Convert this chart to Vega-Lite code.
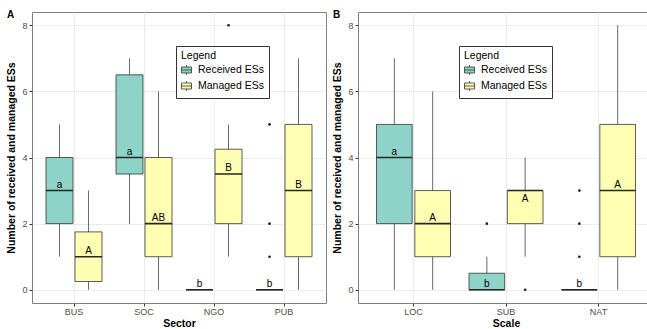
{
  "$schema": "https://vega.github.io/schema/vega-lite/v6.json",
  "background": "white",
  "padding": {"left": 6, "top": 9, "right": 0, "bottom": 0},
  "spacing": 5,
  "config": {
    "font": "Liberation Sans",
    "view": {"stroke": "#7f7f7f", "strokeWidth": 1},
    "axis": {
      "domain": false,
      "tickColor": "#333333",
      "tickSize": 3,
      "labelPadding": 2,
      "labelFontSize": 9,
      "labelColor": "#4D4D4D",
      "titleFontSize": 10.5,
      "titleFontWeight": "bold",
      "titleColor": "#000000"
    }
  },
  "datasets": {
    "boxA": [
      {"cat": "BUS", "series": "Received ESs", "low": 1, "q1": 2, "med": 3, "q3": 4, "high": 5, "letter": "a", "ly": 3.18},
      {"cat": "BUS", "series": "Managed ESs", "low": 0, "q1": 0.25, "med": 1, "q3": 1.75, "high": 3, "letter": "A", "ly": 1.17},
      {"cat": "SOC", "series": "Received ESs", "low": 2, "q1": 3.5, "med": 4, "q3": 6.5, "high": 7, "letter": "a", "ly": 4.16},
      {"cat": "SOC", "series": "Managed ESs", "low": 0, "q1": 1, "med": 2, "q3": 4, "high": 6, "letter": "AB", "ly": 2.18},
      {"cat": "NGO", "series": "Received ESs", "low": 0, "q1": 0, "med": 0, "q3": 0, "high": 0, "letter": "b", "ly": 0.16},
      {"cat": "NGO", "series": "Managed ESs", "low": 1, "q1": 2, "med": 3.5, "q3": 4.25, "high": 5, "letter": "B", "ly": 3.69},
      {"cat": "PUB", "series": "Received ESs", "low": 0, "q1": 0, "med": 0, "q3": 0, "high": 0, "letter": "b", "ly": 0.16},
      {"cat": "PUB", "series": "Managed ESs", "low": 0, "q1": 1, "med": 3, "q3": 5, "high": 7, "letter": "B", "ly": 3.18}
    ],
    "ptsA": [
      {"cat": "NGO", "series": "Managed ESs", "value": 8},
      {"cat": "PUB", "series": "Received ESs", "value": 1},
      {"cat": "PUB", "series": "Received ESs", "value": 2},
      {"cat": "PUB", "series": "Received ESs", "value": 5}
    ],
    "boxB": [
      {"cat": "LOC", "series": "Received ESs", "low": 0, "q1": 2, "med": 4, "q3": 5, "high": 7, "letter": "a", "ly": 4.16},
      {"cat": "LOC", "series": "Managed ESs", "low": 0, "q1": 1, "med": 2, "q3": 3, "high": 6, "letter": "A", "ly": 2.18},
      {"cat": "SUB", "series": "Received ESs", "low": 0, "q1": 0, "med": 0, "q3": 0.5, "high": 1, "letter": "b", "ly": 0.16},
      {"cat": "SUB", "series": "Managed ESs", "low": 1, "q1": 2, "med": 3, "q3": 3, "high": 4, "letter": "A", "ly": 2.76},
      {"cat": "NAT", "series": "Received ESs", "low": 0, "q1": 0, "med": 0, "q3": 0, "high": 0, "letter": "b", "ly": 0.16},
      {"cat": "NAT", "series": "Managed ESs", "low": 0, "q1": 1, "med": 3, "q3": 5, "high": 8, "letter": "A", "ly": 3.18}
    ],
    "ptsB": [
      {"cat": "SUB", "series": "Received ESs", "value": 2},
      {"cat": "SUB", "series": "Managed ESs", "value": 0},
      {"cat": "NAT", "series": "Received ESs", "value": 1},
      {"cat": "NAT", "series": "Received ESs", "value": 2},
      {"cat": "NAT", "series": "Received ESs", "value": 3}
    ]
  },
  "resolve": {
    "scale": {"x": "independent", "xOffset": "independent", "y": "independent", "fill": "independent"},
    "legend": {"fill": "independent"}
  },
  "hconcat": [
    {
      "width": 294,
      "height": 291,
      "title": {"text": "A", "anchor": "start", "frame": "bounds", "fontSize": 10, "fontWeight": "bold", "color": "#000000", "offset": 0, "dy": 8},
      "layer": [
        {
          "data": {"name": "boxA"},
          "mark": {"type": "rule", "color": "#595959", "strokeWidth": 0.9},
          "encoding": {
            "x": {"field": "cat", "type": "nominal", "title": "Sector", "scale": {"domain": ["BUS", "SOC", "NGO", "PUB"], "paddingInner": 0.2, "paddingOuter": 0.2},
              "axis": {"labelAngle": 0, "bandPosition": 0.5, "grid": true, "gridColor": "#EBEBEB", "labelPadding": 1, "titlePadding": 2}},
            "xOffset": {"field": "series", "type": "nominal", "scale": {"domain": ["Received ESs", "Managed ESs"], "paddingInner": 0.07, "paddingOuter": 0}},
            "y": {"field": "low", "type": "quantitative", "title": "Number of received and managed ESs", "scale": {"domain": [-0.4, 8.4], "nice": false, "zero": false},
              "axis": {"values": [0, 1, 2, 3, 4, 5, 6, 7, 8],
                "labelExpr": "datum.value % 2 === 0 ? datum.label : ''",
                "tickOpacity": {"condition": {"test": "datum.value % 2 === 1", "value": 0}, "value": 1},
                "gridColor": {"condition": {"test": "datum.value % 2 === 1", "value": "#F3F3F3"}, "value": "#EBEBEB"},
                "gridWidth": {"condition": {"test": "datum.value % 2 === 1", "value": 0.6}, "value": 1},
                "titlePadding": 5}},
            "y2": {"field": "high"}
          }
        },
        {
          "data": {"name": "boxA"},
          "mark": {"type": "bar", "stroke": "#333333", "strokeWidth": 0.8},
          "encoding": {
            "x": {"field": "cat", "type": "nominal", "title": "Sector"},
            "xOffset": {"field": "series", "type": "nominal"},
            "y": {"field": "q1", "type": "quantitative", "title": "Number of received and managed ESs"},
            "y2": {"field": "q3"},
            "fill": {"field": "series", "type": "nominal", "scale": {"domain": ["Received ESs", "Managed ESs"], "range": ["#8DD3C7", "#FFFFB3"]},
              "legend": {"title": "Legend", "orient": "none", "legendX": 144, "legendY": 34,
                "titleFont": "Liberation Sans", "titleFontSize": 10.5, "titleFontWeight": "normal", "titleColor": "#000000",
                "labelFont": "Liberation Sans", "labelFontSize": 10.5, "labelColor": "#000000",
                "strokeColor": "#333333", "fillColor": "#ffffff", "padding": 5, "rowPadding": 1, "titlePadding": 3, "labelOffset": 6,
                "symbolType": "M-1,-0.6H1V0.6H-1Z M-1,0H1 M0,-0.6V-1 M0,0.6V1",
                "symbolSize": 100, "symbolStrokeColor": "#333333", "symbolStrokeWidth": 0.8}}
          }
        },
        {
          "data": {"name": "boxA"},
          "mark": {"type": "bar", "fill": "transparent", "stroke": "#262626", "strokeWidth": 1.6},
          "encoding": {
            "x": {"field": "cat", "type": "nominal", "title": "Sector"},
            "xOffset": {"field": "series", "type": "nominal"},
            "y": {"field": "med", "type": "quantitative", "title": "Number of received and managed ESs"},
            "y2": {"field": "med"}
          }
        },
        {
          "data": {"name": "ptsA"},
          "mark": {"type": "circle", "size": 7, "color": "#1a1a1a", "opacity": 1},
          "encoding": {
            "x": {"field": "cat", "type": "nominal", "title": "Sector"},
            "xOffset": {"field": "series", "type": "nominal"},
            "y": {"field": "value", "type": "quantitative", "title": "Number of received and managed ESs"}
          }
        },
        {
          "data": {"name": "boxA"},
          "mark": {"type": "text", "fontSize": 10, "color": "#000000", "align": "center", "baseline": "middle"},
          "encoding": {
            "x": {"field": "cat", "type": "nominal", "title": "Sector"},
            "xOffset": {"field": "series", "type": "nominal"},
            "y": {"field": "ly", "type": "quantitative", "title": "Number of received and managed ESs"},
            "text": {"field": "letter"}
          }
        }
      ]
    },
    {
      "width": 296,
      "height": 291,
      "title": {"text": "B", "anchor": "start", "frame": "bounds", "fontSize": 10, "fontWeight": "bold", "color": "#000000", "offset": 0, "dy": 8},
      "layer": [
        {
          "data": {"name": "boxB"},
          "mark": {"type": "rule", "color": "#595959", "strokeWidth": 0.9},
          "encoding": {
            "x": {"field": "cat", "type": "nominal", "title": "Scale", "scale": {"domain": ["LOC", "SUB", "NAT"], "paddingInner": 0.2, "paddingOuter": 0.2},
              "axis": {"labelAngle": 0, "bandPosition": 0.5, "grid": true, "gridColor": "#EBEBEB", "labelPadding": 1, "titlePadding": 2}},
            "xOffset": {"field": "series", "type": "nominal", "scale": {"domain": ["Received ESs", "Managed ESs"], "paddingInner": 0.07, "paddingOuter": 0}},
            "y": {"field": "low", "type": "quantitative", "title": "Number of received and managed ESs", "scale": {"domain": [-0.4, 8.4], "nice": false, "zero": false},
              "axis": {"values": [0, 1, 2, 3, 4, 5, 6, 7, 8],
                "labelExpr": "datum.value % 2 === 0 ? datum.label : ''",
                "tickOpacity": {"condition": {"test": "datum.value % 2 === 1", "value": 0}, "value": 1},
                "gridColor": {"condition": {"test": "datum.value % 2 === 1", "value": "#F3F3F3"}, "value": "#EBEBEB"},
                "gridWidth": {"condition": {"test": "datum.value % 2 === 1", "value": 0.6}, "value": 1},
                "titlePadding": 5}},
            "y2": {"field": "high"}
          }
        },
        {
          "data": {"name": "boxB"},
          "mark": {"type": "bar", "stroke": "#333333", "strokeWidth": 0.8},
          "encoding": {
            "x": {"field": "cat", "type": "nominal", "title": "Scale"},
            "xOffset": {"field": "series", "type": "nominal"},
            "y": {"field": "q1", "type": "quantitative", "title": "Number of received and managed ESs"},
            "y2": {"field": "q3"},
            "fill": {"field": "series", "type": "nominal", "scale": {"domain": ["Received ESs", "Managed ESs"], "range": ["#8DD3C7", "#FFFFB3"]},
              "legend": {"title": "Legend", "orient": "none", "legendX": 101, "legendY": 34,
                "titleFont": "Liberation Sans", "titleFontSize": 10.5, "titleFontWeight": "normal", "titleColor": "#000000",
                "labelFont": "Liberation Sans", "labelFontSize": 10.5, "labelColor": "#000000",
                "strokeColor": "#333333", "fillColor": "#ffffff", "padding": 5, "rowPadding": 1, "titlePadding": 3, "labelOffset": 6,
                "symbolType": "M-1,-0.6H1V0.6H-1Z M-1,0H1 M0,-0.6V-1 M0,0.6V1",
                "symbolSize": 100, "symbolStrokeColor": "#333333", "symbolStrokeWidth": 0.8}}
          }
        },
        {
          "data": {"name": "boxB"},
          "mark": {"type": "bar", "fill": "transparent", "stroke": "#262626", "strokeWidth": 1.6},
          "encoding": {
            "x": {"field": "cat", "type": "nominal", "title": "Scale"},
            "xOffset": {"field": "series", "type": "nominal"},
            "y": {"field": "med", "type": "quantitative", "title": "Number of received and managed ESs"},
            "y2": {"field": "med"}
          }
        },
        {
          "data": {"name": "ptsB"},
          "mark": {"type": "circle", "size": 7, "color": "#1a1a1a", "opacity": 1},
          "encoding": {
            "x": {"field": "cat", "type": "nominal", "title": "Scale"},
            "xOffset": {"field": "series", "type": "nominal"},
            "y": {"field": "value", "type": "quantitative", "title": "Number of received and managed ESs"}
          }
        },
        {
          "data": {"name": "boxB"},
          "mark": {"type": "text", "fontSize": 10, "color": "#000000", "align": "center", "baseline": "middle"},
          "encoding": {
            "x": {"field": "cat", "type": "nominal", "title": "Scale"},
            "xOffset": {"field": "series", "type": "nominal"},
            "y": {"field": "ly", "type": "quantitative", "title": "Number of received and managed ESs"},
            "text": {"field": "letter"}
          }
        }
      ]
    }
  ]
}
